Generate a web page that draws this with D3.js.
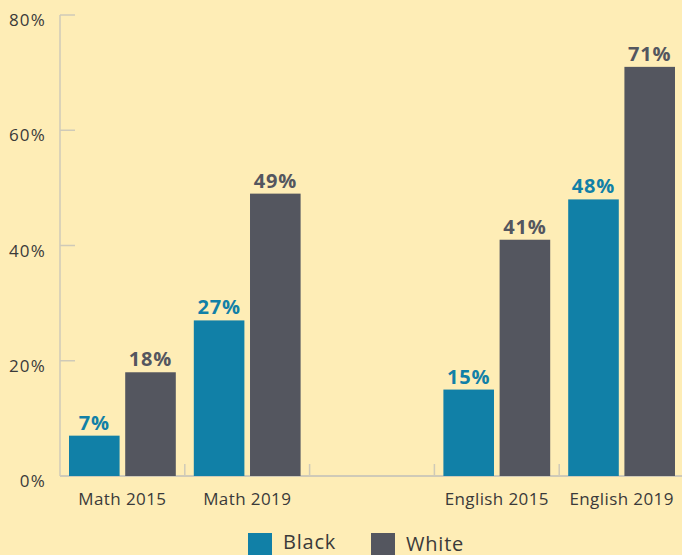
<!DOCTYPE html>
<html>
<head>
<meta charset="utf-8">
<script src="https://cdn.jsdelivr.net/npm/d3@7"></script>
<style>
  html, body { margin: 0; padding: 0; background: #feedb6; }
  svg { display: block; }
  text { font-family: "Open Sans", "Noto Sans", sans-serif; }
</style>
</head>
<body>
<svg id="chart" width="682" height="555"></svg>
<script>
const categories = ["Math 2015", "Math 2019", "", "English 2015", "English 2019"];
const seriesNames = ["Black", "White"];
const blackValues = [7, 27, null, 15, 48];
const whiteValues = [18, 49, null, 41, 71];
const yTicks = [0, 20, 40, 60, 80];
const colors = { Black: "#1180a7", White: "#54565f" };

const svg = d3.select("#chart");
const W = 682, H = 555;
svg.append("rect").attr("width", W).attr("height", H).attr("fill", "#feedb6");

const x0 = 60, x1 = 684, yTop = 15, yBase = 476;
const x = d3.scaleBand().domain(categories.map((c, i) => i)).range([x0, x1]).padding(0);
const y = d3.scaleLinear().domain([0, 80]).range([yBase, yTop]);
const xs = d3.scaleBand().domain(seriesNames).range([9, x.bandwidth() - 9]).paddingInner(0.1);

const axisColor = "#cfcab8";

// Y axis line
svg.append("line").attr("x1", x0).attr("x2", x0).attr("y1", y(80)).attr("y2", yBase)
  .attr("stroke", axisColor).attr("stroke-width", 1.5);
// Y ticks
const yAxis = d3.axisLeft(y).tickValues(yTicks).tickFormat(d => d + "%").tickSize(0).tickPadding(14);
const gy = svg.append("g").attr("transform", `translate(${x0},0)`).call(yAxis);
gy.select(".domain").remove();
gy.selectAll("text").attr("font-size", 17).attr("fill", "#3a3a3a").attr("dy", "0.62em")
  .attr("letter-spacing", 1.2);
yTicks.forEach(t => {
  svg.append("line").attr("x1", x0).attr("x2", x0 + 15).attr("y1", y(t)).attr("y2", y(t))
    .attr("stroke", axisColor).attr("stroke-width", 1.5);
});

// X baseline
svg.append("line").attr("x1", x0).attr("x2", W).attr("y1", yBase).attr("y2", yBase)
  .attr("stroke", axisColor).attr("stroke-width", 2);
// Category separators
categories.forEach((c, i) => {
  if (i === 0) return;
  const xx = x(i);
  svg.append("line").attr("x1", xx).attr("x2", xx).attr("y1", yBase - 12).attr("y2", yBase)
    .attr("stroke", axisColor).attr("stroke-width", 1.5);
});

// X labels
const xAxis = d3.axisBottom(x).tickFormat(i => categories[i]).tickSize(0).tickPadding(0);
const gx = svg.append("g").attr("transform", `translate(0,${yBase})`).call(xAxis);
gx.select(".domain").remove();
gx.selectAll("text").attr("font-size", 17).attr("fill", "#3a3a3a").attr("dy", 0).attr("y", 29)
  .attr("letter-spacing", 0.4);

// Bars
const data = [];
categories.forEach((c, i) => {
  if (blackValues[i] != null) data.push({ i, s: "Black", v: blackValues[i] });
  if (whiteValues[i] != null) data.push({ i, s: "White", v: whiteValues[i] });
});
svg.append("g").selectAll("rect").data(data).join("rect")
  .attr("x", d => x(d.i) + xs(d.s))
  .attr("width", xs.bandwidth())
  .attr("y", d => y(d.v))
  .attr("height", d => yBase - y(d.v))
  .attr("fill", d => colors[d.s]);

svg.append("g").selectAll("text").data(data).join("text")
  .attr("x", d => x(d.i) + xs(d.s) + xs.bandwidth() / 2)
  .attr("y", d => y(d.v) - 6)
  .attr("text-anchor", "middle")
  .attr("font-size", 20)
  .attr("font-weight", 700)
  .attr("letter-spacing", 0.8)
  .attr("fill", d => colors[d.s])
  .text(d => d.v + "%");

// Legend
const legend = [
  { s: "Black", x: 248, ty: 549 },
  { s: "White", x: 371, ty: 551 }
];
legend.forEach(l => {
  svg.append("rect").attr("x", l.x).attr("y", 533).attr("width", 24).attr("height", 24).attr("fill", colors[l.s]);
  svg.append("text").attr("x", l.x + 35).attr("y", l.ty).attr("font-size", 20)
    .attr("letter-spacing", 0.8).attr("fill", "#3a3a3a").text(l.s);
});
</script>
</body>
</html>
